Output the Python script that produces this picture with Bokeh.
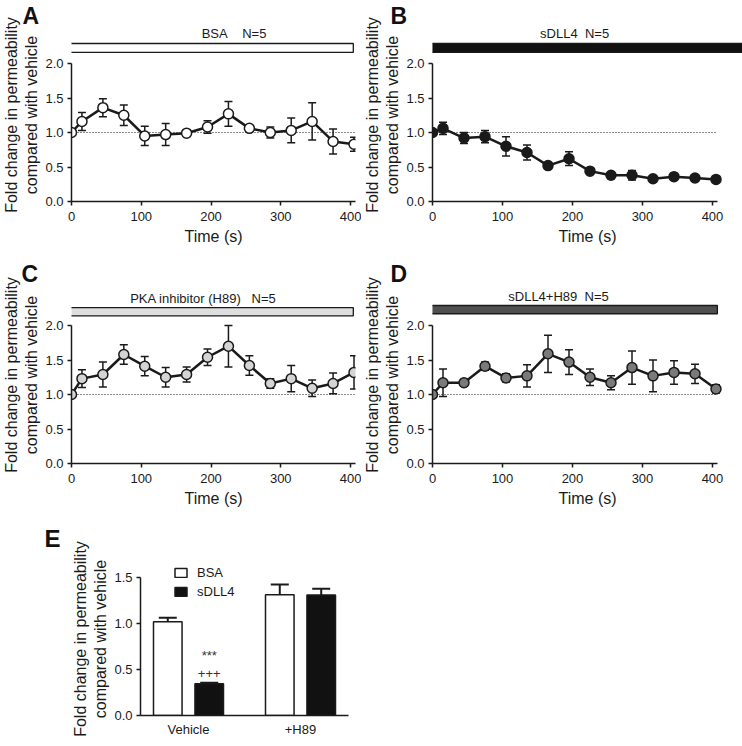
from bokeh.plotting import figure
from bokeh.layouts import column, row
from bokeh.models import (ColumnDataSource, Whisker, TeeHead, FixedTicker, Range1d,
                          NumeralTickFormatter, Title)
from bokeh.embed import file_html
from bokeh.resources import INLINE
from bokeh.core.properties import value

FONT = "Liberation Sans"
INK = "#1a1a1a"

# ---------------- data ----------------
time_s = [0, 15, 45, 75, 105, 135, 165, 195, 225, 255, 285, 315, 345, 375, 405]

bsa_mean = [1.00, 1.16, 1.36, 1.25, 0.95, 0.97, 0.99, 1.08, 1.27, 1.06, 1.00, 1.03, 1.16, 0.87, 0.83]
bsa_sem = [0.00, 0.13, 0.13, 0.15, 0.14, 0.16, 0.02, 0.09, 0.18, 0.04, 0.08, 0.18, 0.27, 0.18, 0.10]

dll4_mean = [1.00, 1.06, 0.92, 0.94, 0.80, 0.71, 0.52, 0.62, 0.44, 0.38, 0.38, 0.33, 0.36, 0.34, 0.32]
dll4_sem = [0.00, 0.09, 0.08, 0.09, 0.14, 0.11, 0.03, 0.10, 0.04, 0.05, 0.07, 0.02, 0.02, 0.02, 0.02]

h89_mean = [1.00, 1.23, 1.29, 1.58, 1.41, 1.25, 1.29, 1.54, 1.70, 1.42, 1.16, 1.23, 1.09, 1.16, 1.32]
h89_sem = [0.00, 0.13, 0.18, 0.14, 0.14, 0.14, 0.11, 0.12, 0.30, 0.14, 0.07, 0.19, 0.12, 0.15, 0.24]

dll4h89_mean = [1.00, 1.17, 1.17, 1.41, 1.24, 1.27, 1.59, 1.47, 1.25, 1.17, 1.39, 1.27, 1.32, 1.30, 1.08]
dll4h89_sem = [0.00, 0.20, 0.05, 0.06, 0.06, 0.16, 0.27, 0.18, 0.12, 0.10, 0.24, 0.23, 0.17, 0.14, 0.06]

x_ticks = [0, 100, 200, 300, 400]
y_ticks = [0.0, 0.5, 1.0, 1.5, 2.0]
x_title = "Time (s)"
y_title = "Fold change in permeability\ncompared with vehicle"

panel_letters = ["A", "B", "C", "D", "E"]
panel_titles = ["BSA\u00a0\u00a0\u00a0\u00a0N=5", "sDLL4\u00a0\u00a0N=5",
                "PKA inhibitor (H89)\u00a0\u00a0\u00a0N=5", "sDLL4+H89\u00a0\u00a0N=5"]

groups = ["Vehicle", "+H89"]
bar_bsa = [1.02, 1.315]
bar_bsa_sem = [0.045, 0.11]
bar_dll4 = [0.345, 1.31]
bar_dll4_sem = [0.012, 0.07]
bar_ticks = [0.0, 0.5, 1.0, 1.5]
sig_marks = ["***", "+++"]
legend_names = ["BSA", "sDLL4"]


def style_axes(p, xt, yt, ybounds, xbounds):
    for ax in (p.xaxis[0], p.yaxis[0]):
        ax.axis_line_width = 1.5
        ax.axis_line_color = INK
        ax.major_tick_line_width = 1.5
        ax.major_tick_line_color = INK
        ax.major_tick_out = 4
        ax.major_tick_in = 0
        ax.minor_tick_line_color = None
        ax.major_label_text_font = FONT
        ax.major_label_text_font_size = "13px"
        ax.major_label_text_color = INK
        ax.axis_label_text_font = FONT
        ax.axis_label_text_font_size = "16px"
        ax.axis_label_text_font_style = "normal"
        ax.axis_label_text_color = INK
    p.xaxis.major_label_standoff = 6
    p.xaxis.axis_label_standoff = 4
    p.yaxis.major_label_standoff = 4
    p.yaxis.axis_label_standoff = 2
    if xt is not None:
        p.xaxis.ticker = FixedTicker(ticks=xt)
    p.yaxis.ticker = FixedTicker(ticks=yt)
    p.yaxis.formatter = NumeralTickFormatter(format="0.0")
    p.yaxis.bounds = ybounds
    if xbounds is not None:
        p.xaxis.bounds = xbounds
    p.grid.visible = False
    p.outline_line_color = None


def set_letter(p, letter, offset, size):
    p.title.text = letter
    p.title.align = "left"
    p.title.offset = offset
    p.title.standoff = 0
    p.title.text_font = FONT
    p.title.text_font_size = size
    p.title.text_font_style = "bold"
    p.title.text_color = "#111111"
    p.title.vertical_align = "bottom"


def time_panel(letter, title, mean, sem, fill, bar_fill, spec):
    bl, br, bt, bb, frame_w, frame_h = spec["borders"]
    xend = frame_w / 0.7
    yend = frame_h / 69.0
    p = figure(width=bl + frame_w + br, height=bt + frame_h + bb,
               x_range=Range1d(0, xend), y_range=Range1d(0, yend),
               output_backend="svg", toolbar_location=None,
               min_border_left=bl, min_border_right=br,
               min_border_top=bt, min_border_bottom=bb)
    style_axes(p, x_ticks, y_ticks, (0, 2.0), (0, 407))
    p.xaxis.axis_label = x_title
    p.yaxis.axis_label = y_title

    # treatment bar + label
    x0, x1, y0, y1 = spec["bar"]
    p.quad(left=[x0], right=[x1], bottom=[y0], top=[y1], fill_color=bar_fill,
           line_color=INK, line_width=1.3)
    p.text(x=[spec["title_x"]], y=[spec["title_y"]], text=[title],
           text_font=value(FONT), text_font_size="13px", text_color=INK,
           text_align="center", text_baseline="alphabetic")

    # reference line
    p.line(x=[0, 407], y=[1, 1], line_dash="1 2", line_color=INK, line_width=1.2)

    src = ColumnDataSource(dict(t=time_s, m=mean,
                                lo=[a - b for a, b in zip(mean, sem)],
                                hi=[a + b for a, b in zip(mean, sem)]))
    w = Whisker(source=src, base="t", lower="lo", upper="hi", dimension="height",
                line_color=INK, line_width=1.5,
                upper_head=TeeHead(size=8, line_color=INK, line_width=1.5),
                lower_head=TeeHead(size=8, line_color=INK, line_width=1.5))
    p.add_layout(w)
    p.line("t", "m", source=src, line_color=INK, line_width=2.5)
    p.scatter("t", "m", source=src, size=10, fill_color=fill, line_color=INK, line_width=1.5)

    set_letter(p, letter, spec["letter_off"], "23px")
    return p


# borders: left, right, top, bottom, frame width, frame height
specA = dict(borders=(70, 6, 28, 54, 285, 173), bar=(-4, 404, 2.16, 2.29),
             title_x=233, title_y=2.43, letter_off=-49)
specB = dict(borders=(71, 0, 28, 54, 310, 173), bar=(-1.5, 450, 2.16, 2.29),
             title_x=203, title_y=2.43, letter_off=-42)
specC = dict(borders=(70, 6, 31, 54, 285, 177), bar=(-4, 404, 2.14, 2.26),
             title_x=189, title_y=2.39, letter_off=-50)
specD = dict(borders=(71, 0, 31, 54, 310, 177), bar=(-1.5, 407, 2.17, 2.29),
             title_x=180, title_y=2.42, letter_off=-42)

pA = time_panel(panel_letters[0], panel_titles[0], bsa_mean, bsa_sem, "white", "white", specA)
pB = time_panel(panel_letters[1], panel_titles[1], dll4_mean, dll4_sem, INK, "#111111", specB)
pC = time_panel(panel_letters[2], panel_titles[2], h89_mean, h89_sem, "#d4d4d4", "#dedede", specC)
pD = time_panel(panel_letters[3], panel_titles[3], dll4h89_mean, dll4h89_sem, "#7a7a7a", "#505050", specD)

# ---------------- panel E ----------------
pE = figure(width=140 + 208 + 20, height=45 + 153 + 30, title=None,
            x_range=Range1d(-0.4286, 1.4286), y_range=Range1d(0, 153 / 91.9),
            output_backend="svg", toolbar_location=None,
            min_border_left=140, min_border_right=20, min_border_top=45, min_border_bottom=30)
style_axes(pE, [0, 1], bar_ticks, (0, 1.5), None)
pE.xaxis.major_tick_out = 0
pE.xaxis.major_label_standoff = 6
pE.xaxis.major_label_overrides = {0: groups[0], 1: groups[1]}
pE.yaxis.axis_label = y_title
pE.add_layout(Title(text="\u00a0", text_font_size="8px", standoff=0), "above")
pE.add_layout(Title(text=panel_letters[4], align="left", offset=-96, standoff=0,
                    text_font=FONT, text_font_size="24px", text_font_style="bold",
                    text_color="#111111", vertical_align="bottom"), "above")

idx = list(range(len(groups)))
esrc = ColumnDataSource(dict(
    xb=[i - 0.185 for i in idx], xd=[i + 0.185 for i in idx],
    b=bar_bsa, bh=[a + s for a, s in zip(bar_bsa, bar_bsa_sem)],
    d=bar_dll4, dh=[a + s for a, s in zip(bar_dll4, bar_dll4_sem)]))
for xcol, lo, hi in (("xb", "b", "bh"), ("xd", "d", "dh")):
    pE.add_layout(Whisker(source=esrc, base=xcol, lower=lo, upper=hi, dimension="height",
                          line_color=INK, line_width=2, lower_head=None,
                          upper_head=TeeHead(size=18, line_color=INK, line_width=2)))
pE.vbar(x="xb", top="b", width=0.255, source=esrc, fill_color="white",
        line_color=INK, line_width=1.5, legend_label=legend_names[0])
pE.vbar(x="xd", top="d", width=0.255, source=esrc, fill_color="#111111",
        line_color=INK, line_width=1.5, legend_label=legend_names[1])

pE.text(x=[idx[0] + 0.185], y=[0.566], text=[sig_marks[0]], text_font=value(FONT),
        text_font_size="13px", text_color="#333333", text_align="center")
pE.text(x=[idx[0] + 0.185], y=[0.413], text=[sig_marks[1]], text_font=value(FONT),
        text_font_size="13px", text_color="#333333", text_align="center")

lg = pE.legend[0]
lg.location = (33, 116)
lg.padding = 0
lg.margin = 0
lg.spacing = 4
lg.glyph_width = 15
lg.glyph_height = 11
lg.label_height = 11
lg.label_standoff = 9
lg.label_text_font = FONT
lg.label_text_font_size = "13px"
lg.label_text_color = INK
lg.border_line_color = None
lg.background_fill_alpha = 0

layout = column(row(pA, pB), row(pC, pD), pE, spacing=0)
open("out.html", "w").write(file_html(layout, INLINE))
